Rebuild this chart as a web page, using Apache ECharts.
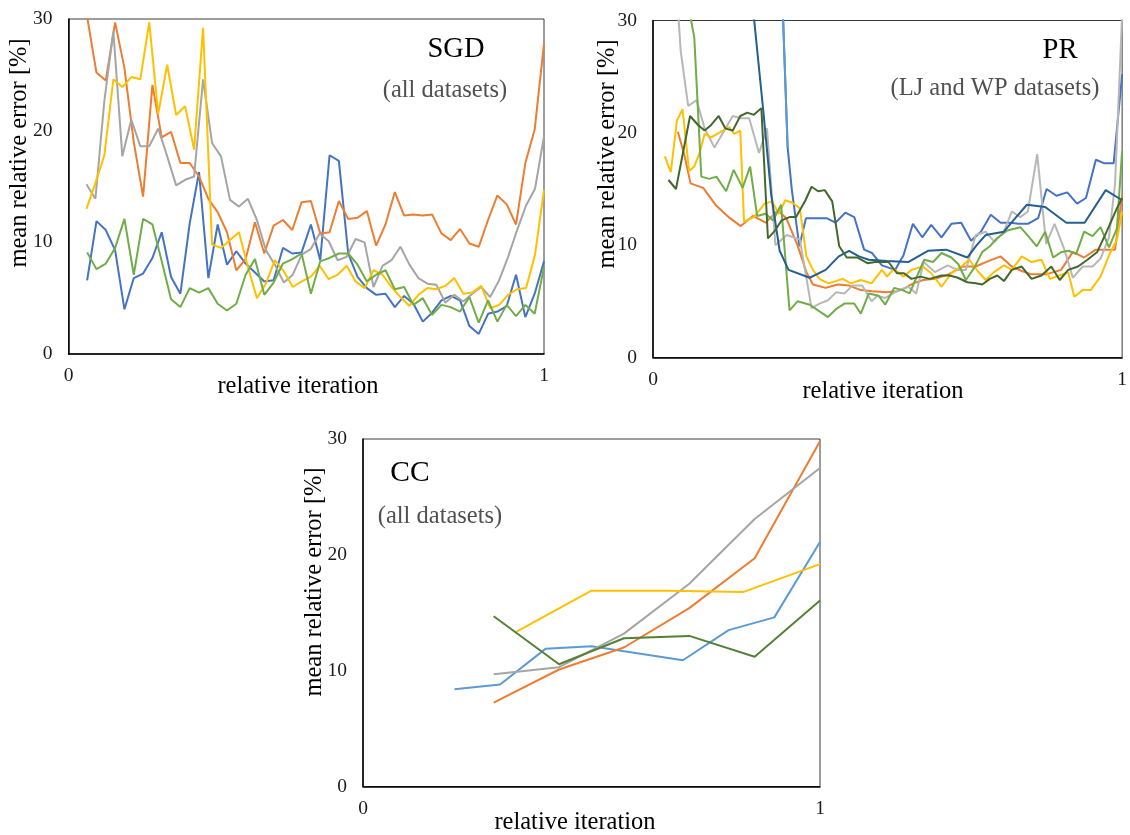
<!DOCTYPE html>
<html>
<head>
<meta charset="utf-8">
<script src="https://cdn.jsdelivr.net/npm/echarts@6/dist/echarts.min.js"></script>
<style>
  html, body { margin: 0; padding: 0; background: #ffffff; }
  #chart { width: 1130px; height: 835px; }
</style>
</head>
<body>
<div id="chart"></div>
<script>
// ---------- SGD (all datasets): evenly spaced samples of relative iteration ----------
// 50-sample runs span 2/51 .. 1, 52-sample runs span 2/53 .. 1
const sgdBlue = [6.6, 11.9, 11.1, 9.3, 4.0, 6.8, 7.2, 8.6, 10.9, 6.9, 5.4, 11.7, 16.3, 6.8, 11.6, 8.0, 9.2, 8.1, 7.3, 6.5,
  6.6, 9.5, 9.0, 9.1, 11.6, 8.4, 17.8, 17.3, 9.0, 6.9, 5.9, 5.3, 5.4, 4.2, 5.2, 4.5, 2.9, 3.7, 4.8, 5.2,
  4.8, 2.5, 1.8, 3.6, 3.8, 4.3, 7.1, 3.3, 5.4, 8.3];
const sgdOrange = [30.2, 25.2, 24.5, 29.7, 25.6, 19.0, 14.1, 24.1, 19.4, 19.9, 17.1, 17.1, 15.9, 13.9, 12.7, 10.9, 7.5, 8.5, 11.8, 9.0,
  11.5, 12.0, 11.1, 13.6, 13.7, 10.8, 10.9, 13.7, 12.1, 12.2, 12.8, 9.7, 11.6, 14.5, 12.4, 12.5, 12.4, 12.5, 10.8, 10.2,
  11.2, 9.9, 9.6, 12.0, 14.2, 13.4, 11.6, 17.1, 20.1, 27.8];
const sgdGray = [15.2, 13.9, 22.7, 28.9, 17.7, 21.0, 18.6, 18.6, 20.2, 17.7, 15.1, 15.6, 15.9, 24.6, 18.9, 17.7, 13.8, 13.2, 13.9, 12.0,
  9.3, 8.0, 6.4, 7.1, 8.9, 9.4, 10.8, 10.1, 8.4, 8.7, 10.3, 10.0, 6.0, 7.9, 8.4, 9.6, 8.0, 6.8, 6.3, 6.2,
  4.6, 5.3, 4.7, 5.4, 6.0, 5.1, 6.6, 8.7, 11.1, 13.3, 14.8, 19.5];
const sgdYellow = [13.0, 15.3, 17.8, 24.6, 23.9, 24.8, 24.6, 29.7, 21.5, 25.9, 21.4, 22.2, 18.3, 29.2, 9.8, 9.5, 10.2, 10.9, 7.8, 5.0,
  6.3, 8.4, 7.4, 6.0, 6.5, 6.9, 7.9, 6.7, 7.1, 7.9, 6.5, 5.9, 7.5, 7.1, 6.0, 5.1, 4.3, 5.3, 5.9, 5.8,
  6.1, 6.8, 5.4, 5.5, 6.1, 4.1, 4.4, 5.3, 5.8, 5.9, 8.9, 14.7];
const sgdGreen = [9.1, 7.6, 8.1, 9.5, 12.1, 7.1, 12.1, 11.6, 8.3, 4.9, 4.2, 5.9, 5.5, 5.9, 4.5, 3.9, 4.5, 7.1, 8.5, 5.3,
  6.4, 8.1, 8.5, 9.0, 5.4, 8.3, 8.6, 9.0, 9.0, 8.0, 6.5, 7.1, 7.5, 5.8, 6.0, 4.4, 5.0, 3.5, 4.4, 4.2,
  3.8, 5.1, 2.8, 4.8, 2.9, 4.4, 3.4, 4.4, 3.6, 7.8];

// ---------- PR (LJ and WP datasets): [relative iteration, error %] ----------
const prBlue = [[0.277, 30.5], [0.287, 18.7], [0.296, 14.9], [0.312, 9.9], [0.326, 12.4], [0.352, 12.4], [0.370, 12.4], [0.389, 12.0],
  [0.410, 12.9], [0.429, 12.5], [0.450, 9.6], [0.467, 9.3], [0.488, 8.2], [0.516, 7.8], [0.534, 9.1], [0.554, 11.9], [0.574, 10.7],
  [0.593, 11.8], [0.615, 10.7], [0.636, 11.9], [0.657, 12.0], [0.678, 10.4], [0.699, 11.2], [0.720, 12.7], [0.741, 12.0],
  [0.762, 12.0], [0.779, 11.9], [0.799, 11.9], [0.821, 12.4], [0.839, 15.0], [0.860, 14.4], [0.883, 14.7], [0.904, 13.7],
  [0.923, 14.2], [0.944, 17.6], [0.961, 17.3], [0.982, 17.3], [1.0, 25.2]];
const prOrange = [[0.053, 20.1], [0.067, 18.0], [0.080, 15.5], [0.107, 15.1], [0.135, 13.5], [0.161, 12.5], [0.187, 11.7],
  [0.213, 12.6], [0.240, 12.0], [0.266, 13.1], [0.284, 12.4], [0.308, 10.0], [0.327, 7.6], [0.341, 6.5], [0.368, 6.2],
  [0.394, 6.5], [0.418, 6.4], [0.443, 6.0], [0.467, 5.9], [0.499, 5.8], [0.520, 5.9], [0.534, 6.1], [0.555, 6.6], [0.576, 6.9],
  [0.601, 7.0], [0.630, 7.4], [0.660, 8.1], [0.688, 8.1], [0.716, 8.6], [0.741, 9.0], [0.765, 8.1], [0.786, 7.7], [0.807, 7.4],
  [0.838, 7.4], [0.870, 7.8], [0.895, 9.4], [0.919, 8.9], [0.944, 9.6], [0.968, 9.6], [0.985, 9.6], [1.0, 14.5]];
const prGray = [[0.054, 30.5], [0.059, 27.3], [0.075, 22.4], [0.093, 22.9], [0.110, 20.4], [0.131, 18.7], [0.152, 20.2],
  [0.170, 21.5], [0.187, 21.3], [0.205, 21.3], [0.226, 18.2], [0.243, 20.4], [0.261, 10.0], [0.285, 10.9], [0.313, 10.5],
  [0.338, 4.4], [0.355, 4.8], [0.373, 5.1], [0.390, 5.8], [0.408, 5.7], [0.425, 6.4], [0.446, 6.4], [0.466, 5.0], [0.478, 5.5],
  [0.495, 5.3], [0.520, 5.9], [0.544, 6.3], [0.561, 5.7], [0.577, 8.5], [0.601, 7.6], [0.628, 8.2], [0.649, 7.8], [0.667, 7.8],
  [0.688, 10.9], [0.709, 11.2], [0.728, 10.3], [0.748, 11.2], [0.765, 13.0], [0.783, 12.5], [0.799, 13.0], [0.819, 18.1],
  [0.838, 10.1], [0.856, 11.9], [0.877, 9.6], [0.895, 7.1], [0.916, 8.1], [0.937, 8.1], [0.954, 8.8], [0.972, 10.7],
  [0.985, 15.5], [1.0, 30.5]];
const prYellow = [[0.025, 17.9], [0.038, 16.5], [0.051, 21.1], [0.063, 22.1], [0.077, 16.6], [0.088, 17.0], [0.100, 18.3],
  [0.110, 19.9], [0.124, 19.6], [0.145, 20.1], [0.163, 20.5], [0.173, 19.9], [0.186, 20.2], [0.194, 12.1], [0.215, 12.5],
  [0.238, 13.7], [0.254, 13.9], [0.268, 12.8], [0.282, 14.0], [0.296, 13.8], [0.313, 13.3], [0.327, 9.0], [0.341, 7.8],
  [0.355, 7.0], [0.373, 6.6], [0.390, 6.8], [0.404, 7.0], [0.422, 6.6], [0.443, 6.9], [0.466, 6.6], [0.488, 7.8], [0.499, 7.2],
  [0.513, 7.9], [0.534, 7.2], [0.551, 7.8], [0.575, 8.1], [0.593, 7.5], [0.615, 6.3], [0.636, 7.5], [0.657, 8.1], [0.674, 8.7],
  [0.692, 7.7], [0.709, 6.9], [0.727, 7.6], [0.748, 8.2], [0.765, 7.8], [0.786, 9.0], [0.807, 8.5], [0.828, 8.7], [0.846, 7.0],
  [0.867, 7.3], [0.885, 7.6], [0.898, 5.4], [0.916, 6.0], [0.933, 6.0], [0.954, 7.2], [0.972, 9.1], [0.989, 10.5], [1.0, 13.0]];
const prLightBlue = [[0.277, 30.5], [0.287, 18.7]];
const prGreen = [[0.079, 30.5], [0.088, 28.5], [0.103, 16.1], [0.120, 15.9], [0.135, 16.1], [0.156, 14.8], [0.172, 16.7],
  [0.191, 15.1], [0.207, 17.0], [0.222, 12.6], [0.240, 12.8], [0.256, 12.2], [0.273, 13.6], [0.291, 4.2], [0.308, 5.0],
  [0.334, 4.7], [0.355, 4.1], [0.373, 3.6], [0.390, 4.3], [0.408, 4.8], [0.429, 4.8], [0.443, 3.9], [0.460, 5.7], [0.481, 5.5],
  [0.495, 4.7], [0.514, 6.2], [0.532, 6.0], [0.547, 5.7], [0.578, 8.7], [0.597, 8.5], [0.615, 9.3], [0.636, 8.9], [0.651, 8.3],
  [0.667, 6.9], [0.685, 8.0], [0.702, 9.4], [0.718, 9.9], [0.733, 10.6], [0.755, 11.3], [0.783, 11.6], [0.800, 10.8],
  [0.818, 9.9], [0.836, 11.2], [0.853, 8.9], [0.871, 9.4], [0.886, 9.5], [0.902, 9.2], [0.919, 11.2], [0.937, 10.8],
  [0.954, 11.6], [0.972, 9.8], [0.989, 11.5], [1.0, 18.4]];
const prDarkBlue = [[0.215, 30.3], [0.235, 22.0], [0.252, 14.5], [0.270, 9.5], [0.289, 7.8], [0.334, 7.1], [0.368, 7.8],
  [0.396, 9.0], [0.418, 9.5], [0.439, 9.0], [0.460, 8.7], [0.499, 8.6], [0.544, 8.5], [0.586, 9.5], [0.625, 9.6], [0.670, 8.9],
  [0.690, 10.0], [0.709, 10.9], [0.748, 11.2], [0.770, 12.3], [0.797, 13.6], [0.836, 13.4], [0.881, 12.0], [0.920, 12.0],
  [0.965, 14.9], [1.0, 14.0]];
const prDarkGreen = [[0.033, 15.8], [0.049, 15.0], [0.079, 21.5], [0.096, 20.7], [0.110, 20.2], [0.124, 20.7], [0.140, 21.5],
  [0.154, 20.4], [0.170, 20.2], [0.186, 21.5], [0.201, 21.8], [0.215, 21.6], [0.231, 22.2], [0.245, 10.6], [0.260, 11.3],
  [0.274, 12.2], [0.291, 12.5], [0.305, 12.5], [0.325, 14.0], [0.338, 15.2], [0.352, 14.8], [0.366, 14.9], [0.382, 13.9],
  [0.397, 9.9], [0.413, 8.9], [0.436, 8.9], [0.457, 8.4], [0.474, 8.5], [0.502, 8.5], [0.520, 7.5], [0.535, 7.5], [0.551, 7.0],
  [0.570, 7.2], [0.590, 7.0], [0.615, 7.3], [0.632, 7.3], [0.650, 7.1], [0.670, 6.7], [0.688, 6.6], [0.702, 6.5], [0.718, 7.0],
  [0.734, 7.3], [0.748, 6.8], [0.765, 7.8], [0.786, 8.1], [0.807, 7.0], [0.828, 7.3], [0.849, 8.1], [0.867, 6.9], [0.885, 7.8],
  [0.906, 8.1], [0.926, 8.7], [0.947, 9.4], [0.968, 11.3], [0.989, 13.3], [1.0, 14.2]];

// ---------- CC (all datasets): [relative iteration, error %] ----------
const ccBlue = [[0.2, 8.4], [0.3, 8.8], [0.4, 11.9], [0.5, 12.1], [0.6, 11.5], [0.7, 10.9], [0.8, 13.5], [0.9, 14.6], [1.0, 21.1]];
const ccOrange = [[0.286, 7.25], [0.429, 10.1], [0.571, 12.0], [0.714, 15.4], [0.857, 19.7], [1.0, 29.8]];
const ccGray = [[0.286, 9.7], [0.429, 10.3], [0.571, 13.2], [0.714, 17.5], [0.857, 23.1], [1.0, 27.5]];
const ccYellow = [[0.333, 13.3], [0.5, 16.9], [0.667, 16.9], [0.833, 16.8], [1.0, 19.2]];
const ccGreen = [[0.286, 14.7], [0.429, 10.55], [0.571, 12.8], [0.714, 13.0], [0.857, 11.2], [1.0, 16.05]];

// axis ticks
const xTicks = [0, 1];
const yTicks = [0, 10, 20, 30];

// ---------- helpers ----------
const SERIF = '"Liberation Serif", "Times New Roman", serif';
const COLORS = {
  blue: '#4472C4', orange: '#ED7D31', gray: '#A5A5A5', yellow: '#FFC000', lightBlue: '#5B9BD5',
  green: '#70AD47', darkBlue: '#255E91', darkGreen: '#43682B', ccGreen: '#548235', lightGray: '#B7B7B7'
};

// evenly spaced iteration fractions from first to last
function spread(vals, first, last) {
  const n = vals.length;
  return vals.map((v, i) => [first + (last - first) * i / (n - 1), v]);
}

function lineSeries(g, data, color) {
  return {
    type: 'line', xAxisIndex: g, yAxisIndex: g, data: data,
    symbol: 'none', showSymbol: false, clip: true, silent: true,
    lineStyle: { width: 2, color: color }, itemStyle: { color: color }
  };
}

function xAxisFor(g) {
  return {
    type: 'value', gridIndex: g, min: xTicks[0], max: xTicks[xTicks.length - 1],
    interval: xTicks[1] - xTicks[0],
    axisLine: { show: true, onZero: false, lineStyle: { color: '#000', width: 1.5 } },
    axisTick: { show: false }, splitLine: { show: false },
    axisLabel: { fontFamily: SERIF, fontSize: 19.5, color: '#1a1a1a', margin: 12 }
  };
}

function yAxisFor(g) {
  return {
    type: 'value', gridIndex: g, min: yTicks[0], max: yTicks[yTicks.length - 1],
    interval: yTicks[1] - yTicks[0],
    axisLine: { show: true, onZero: false, lineStyle: { color: '#000', width: 1.5 } },
    axisTick: { show: false }, splitLine: { show: false },
    axisLabel: { fontFamily: SERIF, fontSize: 19.5, color: '#1a1a1a', margin: 16 }
  };
}

function label(x, y, text, size, color, rotate) {
  return {
    type: 'text', x: x, y: y, rotation: rotate ? Math.PI / 2 : 0, silent: true,
    style: { text: text, fontFamily: SERIF, fontSize: size, fill: color, align: 'center', verticalAlign: 'middle' }
  };
}

const chart = echarts.init(document.getElementById('chart'), null, { renderer: 'canvas' });

const gridStyle = { show: true, borderColor: '#3a3a3a', borderWidth: 1, backgroundColor: 'transparent', containLabel: false };

chart.setOption({
  animation: false,
  backgroundColor: '#ffffff',
  grid: [
    Object.assign({ left: 68.5, top: 19, width: 475.5, height: 335 }, gridStyle),
    Object.assign({ left: 653, top: 20.5, width: 478, height: 337 }, gridStyle),
    Object.assign({ left: 363, top: 439, width: 457, height: 347.5 }, gridStyle)
  ],
  xAxis: [xAxisFor(0), xAxisFor(1), xAxisFor(2)],
  yAxis: [yAxisFor(0), yAxisFor(1), yAxisFor(2)],
  series: [
    // SGD
    lineSeries(0, spread(sgdBlue, 2 / 51, 1), COLORS.blue),
    lineSeries(0, spread(sgdOrange, 2 / 51, 1), COLORS.orange),
    lineSeries(0, spread(sgdGray, 2 / 53, 1), COLORS.gray),
    lineSeries(0, spread(sgdYellow, 2 / 53, 1), COLORS.yellow),
    lineSeries(0, spread(sgdGreen, 2 / 51, 1), COLORS.green),
    // PR
    lineSeries(1, prBlue, COLORS.blue),
    lineSeries(1, prOrange, COLORS.orange),
    lineSeries(1, prGray, COLORS.lightGray),
    lineSeries(1, prYellow, COLORS.yellow),
    lineSeries(1, prLightBlue, COLORS.lightBlue),
    lineSeries(1, prGreen, COLORS.green),
    lineSeries(1, prDarkBlue, COLORS.darkBlue),
    lineSeries(1, prDarkGreen, COLORS.darkGreen),
    // CC
    lineSeries(2, ccBlue, COLORS.lightBlue),
    lineSeries(2, ccOrange, COLORS.orange),
    lineSeries(2, ccGray, COLORS.gray),
    lineSeries(2, ccYellow, COLORS.yellow),
    lineSeries(2, ccGreen, COLORS.ccGreen)
  ],
  graphic: [
    // panel titles
    label(456, 50, 'SGD', 28.5, '#000'),
    label(445, 91, '(all datasets)', 24.5, '#505050'),
    label(1060, 51, 'PR', 28.5, '#000'),
    label(995, 89, '(LJ and WP datasets)', 24.5, '#505050'),
    label(410, 473, 'CC', 29.5, '#000'),
    label(440, 517, '(all datasets)', 24.5, '#505050'),
    // axis titles
    label(298, 387, 'relative iteration', 24.5, '#000'),
    label(883, 392, 'relative iteration', 24.5, '#000'),
    label(575, 823, 'relative iteration', 24.5, '#000'),
    label(20, 153, 'mean relative error [%]', 24.5, '#000', true),
    label(608, 154, 'mean relative error [%]', 24.5, '#000', true),
    label(315, 582, 'mean relative error [%]', 24.5, '#000', true)
  ]
});
</script>
</body>
</html>
